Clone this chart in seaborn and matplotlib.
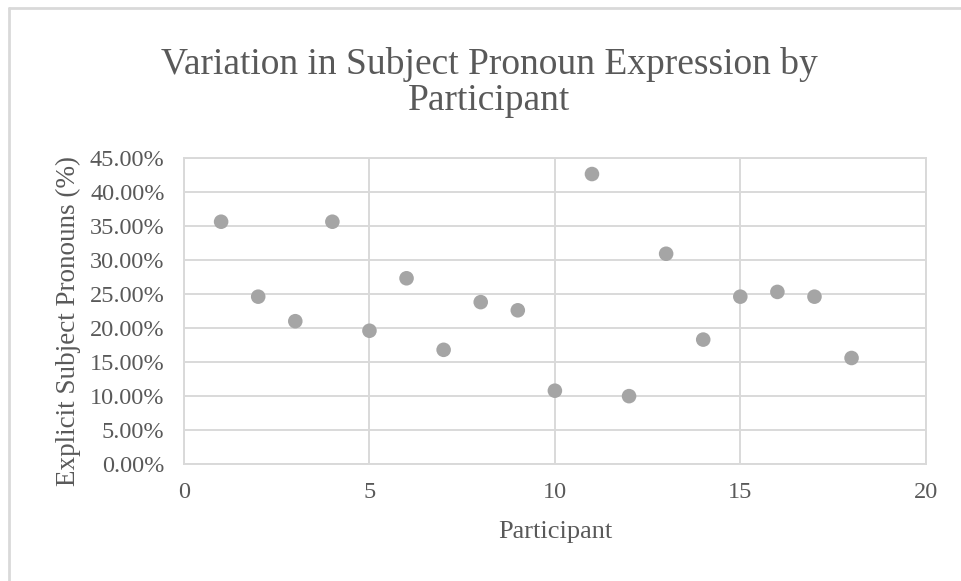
import pandas as pd
import seaborn as sns
import matplotlib.pyplot as plt
from matplotlib.ticker import PercentFormatter
from matplotlib.lines import Line2D

# values
participant = [1, 2, 3, 4, 5, 6, 7, 8, 9, 10, 11, 12, 13, 14, 15, 16, 17, 18]
explicit_pct = [35.6, 24.6, 21.0, 35.6, 19.6, 27.3, 16.8, 23.8, 22.6,
                10.8, 42.6, 10.0, 30.9, 18.3, 24.6, 25.3, 24.6, 15.6]
x_ticks = [0, 5, 10, 15, 20]
y_ticks = [0, 5, 10, 15, 20, 25, 30, 35, 40, 45]

df = pd.DataFrame({'Participant': participant, 'Explicit': explicit_pct})

sns.set_style('white')
plt.rcParams['font.family'] = ['Liberation Serif', 'DejaVu Serif']
text_col = '#595959'
grid_col = '#d9d9d9'

fig = plt.figure(figsize=(9.61, 5.81), dpi=100)
ax = fig.add_axes([0.1915, 0.2009, 0.7718, 0.5277])

sns.scatterplot(data=df, x='Participant', y='Explicit', ax=ax,
                color='#a5a5a5', s=110, edgecolor='none', zorder=3)

ax.set_xlim(0, 20)
ax.set_ylim(0, 45)
ax.set_xticks(x_ticks)
ax.set_yticks(y_ticks)
ax.yaxis.set_major_formatter(PercentFormatter(xmax=100, decimals=2))
ax.grid(True, color=grid_col, linewidth=1.4)
ax.set_axisbelow(True)
for sp in ax.spines.values():
    sp.set_color(grid_col)
    sp.set_linewidth(1.4)
ax.tick_params(length=0, labelsize=17.5, labelcolor=text_col)
ax.tick_params(axis='y', pad=14)
ax.tick_params(axis='x', pad=13)

ax.set_xlabel('Participant', fontsize=19, color=text_col, labelpad=13)
ax.set_ylabel('Explicit Subject Pronouns (%)', fontsize=19.5, color=text_col)
ax.yaxis.set_label_coords(-0.139, 0.467)

fig.text(0.509, 0.858, 'Variation in Subject Pronoun Expression by\nParticipant',
         ha='center', va='center', fontsize=27, color=text_col, linespacing=1.06)

# light chart-area border (top and left edges visible)
fig.add_artist(Line2D([0.0098, 0.0098], [0, 0.986], transform=fig.transFigure,
                      color=grid_col, linewidth=2))
fig.add_artist(Line2D([0.0098, 1], [0.986, 0.986], transform=fig.transFigure,
                      color=grid_col, linewidth=2))

fig.savefig('out.png', dpi=100)
